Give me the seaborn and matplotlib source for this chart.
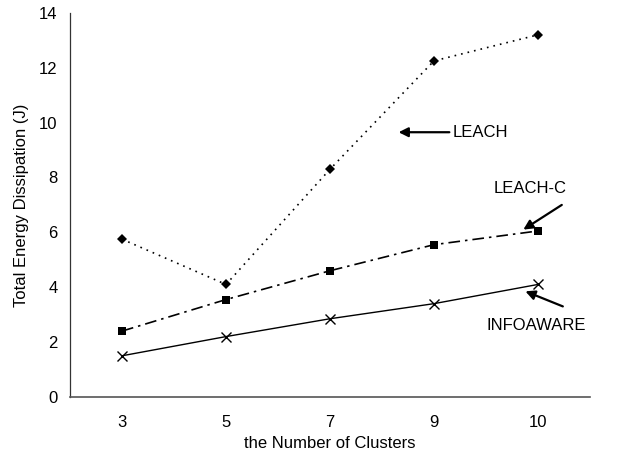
import numpy as np
import pandas as pd
import seaborn as sns
import matplotlib.pyplot as plt

# --------------------------------------------------
# Data
# --------------------------------------------------

clusters = ["3", "5", "7", "9", "10"]
leach = [5.75, 4.1, 8.3, 12.25, 13.2]
leach_c = [2.4, 3.55, 4.6, 5.55, 6.05]
infoaware = [1.5, 2.2, 2.85, 3.4, 4.1]

pos = np.arange(len(clusters))
df = pd.DataFrame({"pos": pos, "LEACH": leach, "LEACH-C": leach_c, "INFOAWARE": infoaware})

# --------------------------------------------------
# Plot
# --------------------------------------------------

sns.set_style("white")
plt.rcParams["font.family"] = ["Liberation Sans", "DejaVu Sans"]
plt.rcParams["text.color"] = "black"
plt.rcParams["axes.labelcolor"] = "black"
plt.rcParams["xtick.color"] = "black"
plt.rcParams["ytick.color"] = "black"

FS = 12

fig = plt.figure(figsize=(6.37, 4.61), dpi=100)
ax = fig.add_axes([0.11, 0.139, 0.816, 0.833])

sns.lineplot(data=df, x="pos", y="LEACH", ax=ax, color="black", lw=1.2,
             linestyle=(0, (1, 3)), marker="D", markersize=5, markeredgewidth=0)
sns.lineplot(data=df, x="pos", y="LEACH-C", ax=ax, color="black", lw=1.2,
             linestyle=(0, (7, 3, 1.5, 3)), marker="s", markersize=6, markeredgewidth=0)
sns.lineplot(data=df, x="pos", y="INFOAWARE", ax=ax, color="black", lw=1.0,
             linestyle="-", marker="x", markersize=7, markeredgewidth=1.0,
             markeredgecolor="black")

ax.set_xlim(-0.5, len(clusters) - 0.5)
ax.set_ylim(0, 14)
ax.set_yticks(range(0, 15, 2))

# Excel-style ticks between categories, labels centred
ax.set_xticks(np.arange(-0.5, len(clusters), 1.0))
ax.set_xticklabels([])
ax.set_xticks(pos, minor=True)
ax.set_xticklabels(clusters, minor=True)
ax.tick_params(axis="x", which="major", direction="out", length=5, width=0.8, colors="#333333")
ax.tick_params(axis="x", which="minor", length=0, pad=13, labelsize=FS, labelcolor="black")
ax.tick_params(axis="y", direction="out", length=5, width=0.8, labelsize=FS, pad=4)

for side in ["top", "right"]:
    ax.spines[side].set_visible(False)
ax.spines["left"].set_color("#333333")
ax.spines["bottom"].set_color("#555555")
ax.spines["left"].set_linewidth(0.9)
ax.spines["bottom"].set_linewidth(1.2)

ax.set_xlabel("the Number of Clusters", fontsize=FS, labelpad=4)
ax.set_ylabel("Total Energy Dissipation (J)", fontsize=FS, labelpad=7)

arrow = dict(arrowstyle="-|>", color="black", lw=1.6, mutation_scale=14, shrinkA=0, shrinkB=0)
ax.annotate("LEACH", xy=(2.66, 9.65), xytext=(3.18, 9.65), fontsize=FS,
            va="center", ha="left", arrowprops=arrow)
ax.annotate("", xy=(3.86, 6.1), xytext=(4.23, 7.0), arrowprops=arrow)
ax.text(3.93, 7.6, "LEACH-C", fontsize=FS, ha="center", va="center")
ax.annotate("", xy=(3.88, 3.85), xytext=(4.24, 3.3), arrowprops=arrow)
ax.text(3.98, 2.6, "INFOAWARE", fontsize=FS, ha="center", va="center")

fig.savefig("out.png", dpi=100)
